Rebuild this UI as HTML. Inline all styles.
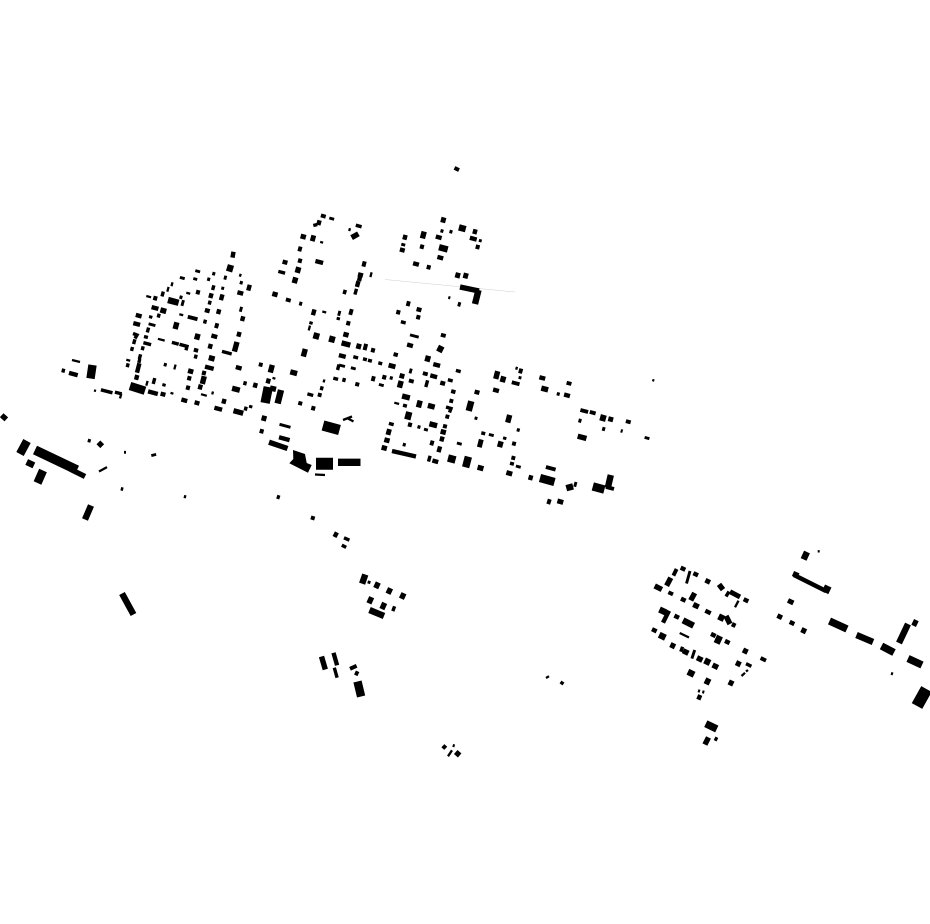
<!DOCTYPE html>
<html><head><meta charset="utf-8"><style>html,body{margin:0;padding:0;background:#fff}svg{display:block}path{fill:none;stroke:#000}</style></head><body>
<svg width="930" height="924" viewBox="0 0 930 924" xmlns="http://www.w3.org/2000/svg">
<path stroke-width=".5" style="stroke:#ccc" d="M385 279.5L515 292"/>
<path stroke-width="2.3" d="M146.3 296l4.8 1.3M172.5 282.3l-1 3.9M168.6 286.9l-1.3 4.8M186.3 292.8l3.9 1M179.3 314.2l3.9 1M240.7 273.8l-.8 2.9M157.9 338.8l6.8 1.8M126.3 359.8l3.9 1M175.6 364.6l-1.3 4.8M147.6 380.9l-1.3 4.8M170.5 392.9l2.9 .8M201 394.2l5.8 1.6M213 391.5l-.8 2.9M72 360l8 2M121.3 393.6l-1.3 4.8M94 390.4l2 .6M350 228.2l-.8 2.9M320.2 241.9l2.9 .8M371.6 272.3l-1.2 4.8M322.3 311.5l3.9 1M310 325.6l-1.3 4.8M324.4 379.5l-.8 2.9M394.3 402.7l4.8 1.3M272.5 377.9l2.9 .8M343 420l9-3.5M347 418l6.5 3.5M315 474.5l10 .5M517 366.8l-.8 2.9M652.3 380l2 .6M679.7 633l9.3 4.5M738.5 600.7l-3.5 6.6M746 671.5l2-1.5M741.5 676l3.5-3.2M817.7 551.3h2M99 471.5l8-4.4M185.4 495.2l-.8 3M546 678l3-1.8M448 756.3l4-6"/>
<path stroke-width="2.9" d="M195.3 270.6l4.8 1.3M179.9 277.4l4.8 1.3M193.3 278.5l3.9 1M225.8 275.7l-1 3.9M223.1 286.8l-.8 2.9M183.5 300.1l-1.6 5.8M241.6 306.9l-1.3 4.8M148.6 323.8l6.8 1.8M329.3 218l4.8 1.3M401.3 244.2l3.9 1M480.7 239.2l-.8 2.9M448.3 297.4l2 .6M339.9 310.9l-1.3 4.8M410 334.9l8.7 2.3M279.5 424.3l11 3M339 365l6 1.5M350.9 367.7l4.8 1.3M411.3 368.6l-1.3 4.8M378.9 384.4l4.8 1.3M424 429.2l3.9 1M456.9 443l4.8 1.3M476.4 416.8l-.8 2.9M520.4 376.2l-.8 2.9M488.9 434.4l4.8 1.3M515.9 466l4.8 1.3M576 482l-1.3 4.8M644.6 437.4l4.8 1.3M694.7 650l-2.8 8.6M690 571l-3.5 12.5M698 690.7l2 .6M702.3 691.7l2 .6M124 452.3h2M151.3 455.6l4.8-1.2M452.7 745.4l2 .6M891 673.4l2 .6M369.5 580.8l-.9 2.9"/>
<path stroke-width="3.4" d="M212.3 273.3l2.9 .8M207.2 278.9l2.9 .8M239.8 282.3l2.9 .8M213.9 285.3l-1.3 4.8M179.5 296.9l2.9 .8M163.3 291.6l-1.3 4.8M210.2 300.7l-1 3.9M151.1 315.5l-.8 2.9M159.2 313.7l-1 3.9M205.5 319.7l-1 3.9M148.6 327.6l-1.3 4.8M133 333.5l4 1.5l-2 3.5M144 336.5l3.9 1M134.9 339.3l-1.3 4.8M143.4 342.7l7.7 2M171.9 342.4l6.8 1.8M179.5 344.3l7.5 2l-1 4M222 351.4l9.7 2.6M132.5 347l-1 3.9M196.2 354.7l-1 3.9M143.2 346.3l-1 3.9M140.6 354.3l-1.3 4.8M139.8 359l-1 3.9M128.2 363.3l-1 3.9M163.8 364.3l2.9 .8M63.8 368.7l-1 3.9M154.8 378.1l-1.6 5.8M164.4 383.5l-.8 2.9M245.5 381.3l-1 3.9M246.2 406.7l-1 3.9M251.1 405.2l-.8 2.9M100.9 389.8l11.6 3M114.9 392.1l6.8 1.8M355.8 225.2l5.8 1.6M313.3 225.5l4-1M440.5 230.6l2.9 .8M449.5 231.3l2.9 .8M278.3 271.4l6.8 1.8M356.5 288.8l-1.6 5.8M400.9 321.7l4.8 1.3M338.7 317.2l-.8 2.9M311.4 321.5l-.8 2.9M353.3 356.7l4.8 1.3M363 358.8l3.9 1M368 360.2l3.9 1M378.3 362.8l3.9 1M455.9 370.4l4.8 1.3M339 364.5l-1.5 5.5M389.8 377.6l2.9 .8M333.3 378.1l4.8 1.3M344.5 378l-1 3.9M427.6 380.3l-1.8 6.8M447.9 379.7l4.8 1.3M322.2 386.3l-1 3.9M307.4 393.9l5.8 1.6M403 405.2l3.9 1M446 407l5 1.5l-1.5 4M388.9 423.4l4.8 1.3M417.5 426.6l2.9 .8M402.8 444.3l2.9 .8M430.1 455.8l-1.6 5.8M516.8 429.6l2.9 .8M556.8 393.6l2.9 .8M481.3 432.8l3.9 1M505.1 436.8l-.8 2.9M510 463.2l3.9 1M620.7 430.7l2 .6M682.6 646.8l-1.8 4.9M729 591.5l-3 5M746 663.7l5.4 2.6M87.8 440.3l2.9 .8M120.8 488.7l2.4 .6M344 537.8l5.4 2.4M341.8 545.2l4.4 2.2M394.6 606.3l-1.8 4.8M334.3 667.7l2.8 10M560.5 682l3 2"/>
<path stroke-width="3.9" d="M320.9 215.4l4.8 1.3M300.6 246.6l-1.3 4.8M285.9 299.4l4.8 1.3M299.2 303.3l2.9 .8M408.9 301.3l-1.3 4.8M351.8 309.1l-1.6 5.8M440.9 334.7l4.8 1.3M187.8 316.7l9.7 2.6M217.3 323.3l-1.3 4.8M373.9 376.3l-1.3 4.8M422.9 373.1l4.8 1.3M408.9 380.4l4.8 1.3M355.3 383.8l3.9 1M320.2 393l-1 3.9M298.3 402.8l3.9 1M451.8 399l-1 3.9M447.8 414.7l-1 3.9M443 425.8l3.9 1M432.6 440.6l-1.3 4.8M276.8 496.6l3 1M521.3 368.6l-1.3 4.8M511.8 382.3l7.7 2M566.6 382.7l4.8 1.3M580.4 410l7.7 2M589.8 411.9l5.8 1.6M625.9 421.1l4.8 1.3M578.5 420.3l2.9 .8M602.2 428.6l2.9 .8M514.5 441.7l-1 3.9M513.8 456l-1 3.9M545.9 467l9.7 2.6M549.8 499.3l-1.6 4.8M668.4 592.2l4.6 2.2M676.6 569l-3.2 6.6M760.6 658l5.4 2.6M714.6 738.3l2.8 1.4M454.5 167.9l4.5 2.2M310.9 517.4l3.8 1.2M442.8 748.6l3-3.2M350 668.8l6.6-3M606 487l8 2M261.2 362.7l-1 3.9"/>
<path stroke-width="4.4" d="M233.5 251.8l-1 5.8M135.8 314.9l5.8 1.6M151.6 307.1l6.8 1.8M204.9 310l4.8 1.3M219.3 309.3l-1.3 4.8M243.3 316.3l-1.3 4.8M133.3 323.1l6.8 1.8M211.4 335.5l5.8 1.6M239.6 331.9l-1.3 4.8M210.9 343.9l-1.3 4.8M196.5 348.3l-1 3.9M139.4 363.3l-2.4 9.4M137.3 375l-1.3 4.8M205 366.6l8.7 2.3M235.8 367l5.8 1.6M202 372.5l3.9 1M187.3 377.8l3.9 1M186 387.2l3.9 1M200.9 384.6l-1.3 4.8M148.1 391.4l9.7 2.6M160.6 393.6l4.8 1.3M255.9 382.9l-1.3 4.8M181.4 399.5l5.8 1.6M194.6 402.3l4.8 1.3M214.4 407.7l7.7 2M224.6 398.9l-1.3 4.8M69 372.9l8.7 2.3M319.6 220.3l-1.3 4.8M475.6 229.3l-1.3 4.8M405.6 234.9l-1.3 4.8M435.8 236.5l5.8 1.6M469.9 237.8l6.8 1.8M420 246.2l3.9 1M399.9 249.4l4.8 1.3M475.7 246.5l3.9 1M437.4 256.9l5.8 1.6M298 260.2l3.9 1M282.6 261.6l4.8 1.3M315.4 261l7.7 2M413.1 263.2l5.8 1.6M426.7 266.8l3.9 1M358 274.2l5 1.3M360.5 275l-1.5 6M358.5 281.1l-1.6 5.8M343 291.5l3.4 1M416.6 309l4.8 1.3M396.3 311.8l3.9 1M416.3 316.8l3.9 1M314.5 309.4l-1.6 5.8M346.3 322.8l3.9 1M457.8 303.9l2.9 .8M407.1 344.5l5.8 1.6M371 349.8l3.9 1M396.2 352.7l-1 3.9M338.9 355.1l6.8 1.8M433.3 364.1l6.8 1.8M430.3 375.4l6.8 1.8M382.3 376.8l3.9 1M440.3 382.6l4.8 1.3M453.8 389.7l-1 3.9M474.6 391.6l4.8 1.3M311.3 407.8l3.9 1M268.9 378.6l-1.3 4.8M259.7 430.8l3.9 1M279 437.3l10.6 2.8M432.4 460.5l5.8 1.6M408 424.2l3.9 1M442.6 436.6l-1.3 4.8M440.1 446.4l-1.6 5.8M392 451l24 5.5M539.4 377.2l5.8 1.6M493.1 389.5l5.8 1.6M564.1 394.5l5.8 1.6M531.3 475.3l-1.3 4.8M680.7 567.6l4.6 2.2M693.4 573.2l4.6 2.2M681 598.6l4.6 2.2M705.3 610.7l5.4 2.6M743.7 599.2l4.6 2.2M674.4 615.6l4.6 2.2M731.9 624.1l3.6 1.8M652 629.2l4.6 2.2M711 633.9l4.6 2.2M725 640.9l4.6 2.2M669 610.7l-6 12M789.7 621.9l4.6 2.2M700.3 695l-2 4.6M355 672.5l3.4 1.6M336.9 532.4l-2.4 4.6M333.5 652.8l3.6 12.5M794 575l32 16M249.8 284.8l-1.6 5.8M237.4 292.2l5.8 1.6M222.5 294.4l-1.6 5.8M211.6 293.3l-1.3 4.8M196 291.8l3.9 1M153.3 297.8l3.9 1"/>
<path stroke-width="4.9" d="M313.8 235.4l-1.6 5.8M388.6 365.1l6.8 1.8M389.5 429.1l-1.6 5.8M402.6 373.6l-1.3 4.8M481.3 439.5l-2 7.7M608.3 418.6l4.8 1.3M506.4 472.5l5.8 1.6M705.4 580.2l4.6 2.2M788 600.4l5.4 2.6M777.4 615.6l4.6 2.2M557.4 500.9l5.8 1.6M730 591.7l10 5.2"/>
<path stroke-width="5.4" d="M176.9 322.3l-1.8 6.8M198.1 333.8l-1.6 5.8M237 341.9l-2.6 9.7M191.3 368.9l-1.3 4.8M208.8 357.5l5.8 1.6M204.3 376.2l-2 7.7M232.1 388.3l7.7 2M233.5 410.7l9.7 2.6M160.4 309.9l5.8 1.6M303.9 234.3l-1.3 4.8M440.9 219.4l4.8 1.3M424.2 231.6l-1.8 6.8M362.1 263.5l3.9 1M298.8 267.1l-1.6 5.8M295.8 277.4l-1.6 5.8M275.6 291.9l-1.3 4.8M455.3 274.7l4.8 1.3M463.3 275.1l4.8 1.3M346.6 332.3l-1.3 4.8M341.6 342.9l8.7 2.3M356.3 345.7l4.8 1.3M305.3 348.9l-2 7.7M428.5 355.8l-1.6 5.8M272.3 364.9l-2 7.7M290.3 371.8l6.8 1.8M401.2 380.9l-1.8 6.8M402.1 396l7.7 2M427.9 405.4l6.8 1.8M420.2 400.6l-1.8 6.8M429.4 423.7l7.7 2M443.9 429.6l-1.3 4.8M387.6 437.9l-1.3 4.8M384.9 445.6l-1.3 4.8M261.6 417.7l4.8 1.3M269 442.2l18.5 6.3M497.7 371.2l-2 7.7M503.8 376.4l-1.6 5.8M541.3 388.1l6.8 1.8M509.7 414.9l-2 7.7M501.1 441.4l-1.6 5.8M477.6 467.2l5.8 1.6M577.7 436.2l8.7 2.3M670.8 577.7l-4.2 8M654.7 585.9l7.2 3.6M719 584.4l4 5.2M694.7 593l-4 7.4M693.3 604.4l5.4 2.6M726 616l4 8M670.4 644.6l4.6 2.2M683 650.7l5.4 2.6M697 657.7l5.4 2.6M712.6 665l5.4 2.6M743 650l4.6 2.2M736 662.6l4.6 2.2M728.7 681.9l4.6 2.2M708.5 737.4l-3.6 7.2M801.4 629.6l4.6 2.2M1.7 415.2l4.6 4.2M98.4 442.4l3.8 3.8M321.5 656.5l3.8 13M378.3 582.5l-2.6 5.6M390.6 588.2l-2.6 5.6M404 593.2l-2.6 5.6M371.7 597.2l-2.8 6.2M384.7 602.9l-2.8 6.2M455.7 752l4 3.4M793 573.5l5.4 2.4M70 469l15 7.5M270 388l6 1.4M351.6 237.6l6.8-3.8M460 287l19 4"/>
<path stroke-width="6.4" d="M231 265l-2 6.6M168 300l10.6 2.8M458.9 227.4l6.8 1.8M439 247.2l8.7 2.3M313.4 335.2l5.8 1.6M329.1 338.5l5.8 1.6M363.4 346.5l3.9 1M437.6 347.6l5.4 2.8M471.3 401.2l-2.6 9.7M409.3 411.9l-2 7.7M600.1 417.2l5.8 1.6M566.3 488.2l6.8-1.8M610.8 475l-3 13M281 390l-3.4 13.5M26.7 462l7.2 3.4M659.5 609.5l6.4 3M683 620.3l10.6 5.4M718.6 616.4l5.4 2.6M659.2 634.8l6.2 3M720 636l-3.4 7.4M704.6 660.4l5.4 2.6M687.9 671.8l6.2 3M705 680.2l5 2.4M807 552l-3.4 7.4M856.5 635l16.5 7M912.7 621.9l4.6 2.2M908 624l-9 19M91 505.5l-6 14M122 593.5l11.5 21M365.3 574.5l-3.2 9.2M369.5 610l14.5 6M478.5 290l-3.5 14"/>
<path stroke-width="7.4" d="M448 458l7.5 2M468.4 456.7l-2.8 10.6M829.5 621l17.5 8M881.5 646l12.5 6.5M908 658.5l14 6.5M705.8 723.7l11 5.3M823.5 587.8l6.4 3M338 462.3h22.5"/>
<path stroke="none" style="fill:#000;stroke:none" d="M293 450L305 454L306.7 463L311.7 465L308 472.7L289.3 463.3L293.3 459Z"/>
<path stroke-width="8.4" d="M92.5 365l-2 13.5M27 441l-7 13M43 470.5l-5.5 12.5M130 386l15 4.8M592.8 486.4l11.6 3.2M540 478l14.5 4M357.5 681.5l3.6 15"/>
<path stroke-width="9.4" d="M268.3 387l-3.2 16M35 450l42 20"/>
<path stroke-width="10.4" d="M323 425.5l16.5 4.5"/>
<path stroke-width="12" d="M316 463.7h17M926.5 689l-9.5 17"/>
</svg>
</body></html>
